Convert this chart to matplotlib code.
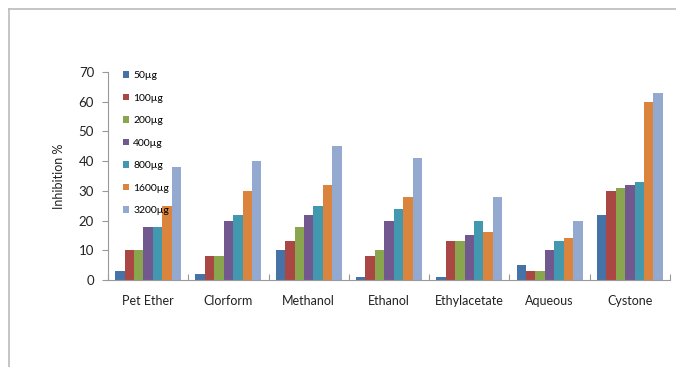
import numpy as np
import matplotlib
matplotlib.use("Agg")
import matplotlib.pyplot as plt
from matplotlib.lines import Line2D

plt.rcParams['font.family'] = ['Lato', 'DejaVu Sans']

# datos
categorias = ["Pet Ether", "Clorform", "Methanol", "Ethanol", "Ethylacetate", "Aqueous", "Cystone"]
dosis = ["50µg", "100µg", "200µg", "400µg", "800µg", "1600µg", "3200µg"]
v50 = [3, 2, 10, 1, 1, 5, 22]
v100 = [10, 8, 13, 8, 13, 3, 30]
v200 = [10, 8, 18, 10, 13, 3, 31]
v400 = [18, 20, 22, 20, 15, 10, 32]
v800 = [18, 22, 25, 24, 20, 13, 33]
v1600 = [25, 30, 32, 28, 16, 14, 60]
v3200 = [38, 40, 45, 41, 28, 20, 63]
series = [v50, v100, v200, v400, v800, v1600, v3200]
colores = ["#4572A7", "#AA4643", "#89A54E", "#71588F", "#4198AF", "#DB843D", "#93A9CF"]

fig = plt.figure(figsize=(6.76, 3.67), dpi=100)
ax = fig.add_axes([108/676, 1-280/367, 562/676, 208/367])

x = np.arange(len(categorias))
ancho = 1/8.5
for i, (vals, c) in enumerate(zip(series, colores)):
    ax.bar(x - 0.5 + ancho*0.75 + ancho*(i+0.5), vals, width=ancho, color=c, label=dosis[i])

ax.set_xlim(-0.5, len(categorias)-0.5)
ax.set_ylim(0, 70)
ax.set_yticks(range(0, 71, 10))
ax.set_xticks(np.arange(-0.5, len(categorias), 1))
ax.set_xticklabels([])
ax.set_xticks(x, minor=True)
ax.set_xticklabels(categorias, minor=True, fontsize=9, color="#222222")
ax.tick_params(axis='x', which='major', length=4, direction='in', color="#999999")
ax.tick_params(axis='x', which='minor', length=0, pad=11)
ax.tick_params(axis='y', length=4, direction='out', color="#999999", labelsize=9.5, labelcolor="#222222", pad=6)
for s in ["top", "right"]:
    ax.spines[s].set_visible(False)
for s in ["left", "bottom"]:
    ax.spines[s].set_color("#999999")
ax.set_ylabel("Inhibition %", fontsize=9, color="#222222", labelpad=10)

leg = ax.legend(loc="upper left", bbox_to_anchor=(0.01, 1.05), frameon=False, fontsize=7.5,
                handlelength=0.6, handleheight=0.6, handletextpad=0.4, labelspacing=1.3)

# borde del marco
fig.add_artist(Line2D([9/676, 1], [1-8.5/367, 1-8.5/367], color="#bbbbbb", lw=1.2))
fig.add_artist(Line2D([9/676, 9/676], [0, 1-8.5/367], color="#bbbbbb", lw=1.2))

fig.savefig("out.png", dpi=100)
